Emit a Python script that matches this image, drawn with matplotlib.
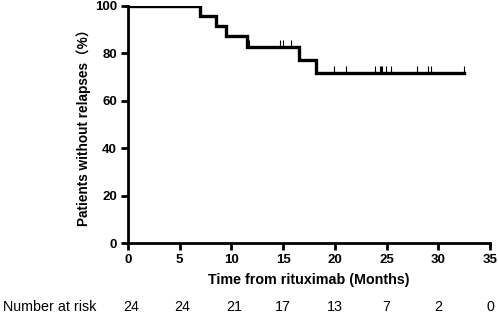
import numpy as np
import matplotlib.pyplot as plt

plt.rcParams['font.family'] = ['Liberation Sans', 'Noto Sans CJK SC', 'DejaVu Sans']

# Kaplan-Meier step curve (months, % without relapse)
step_times = [0, 7.0, 8.5, 9.5, 11.5, 16.5, 18.2, 32.5]
step_surv = [100, 95.8, 91.7, 87.2, 82.6, 77.0, 71.7, 71.7]

# censored observations
cens_times = [5.1, 11.7, 14.7, 14.95, 15.8,
              19.9, 21.1, 23.9, 24.4, 24.5, 24.6, 24.9, 25.4, 27.9, 29.0, 29.3, 32.5]

risk_times = [0, 5, 10, 15, 20, 25, 30, 35]
at_risk = [24, 24, 21, 17, 13, 7, 2, 0]

fig = plt.figure(figsize=(4.98, 3.14), dpi=100)
ax = fig.add_axes([0.257, 0.226, 0.727, 0.755])

ax.step(step_times, step_surv, where='post', color='black', lw=2.4, solid_joinstyle='miter')
# value at censoring = level of step curve
cens_surv = [step_surv[np.searchsorted(step_times, t, side='right') - 1] for t in cens_times]
ax.plot(cens_times, np.array(cens_surv) + 1.8, linestyle='none', marker='|',
        color='black', markersize=4.5, markeredgewidth=0.8)

ax.set_xlim(0, 35)
ax.set_ylim(0, 100)
ax.set_xticks(risk_times)
ax.set_yticks([0, 20, 40, 60, 80, 100])
for s in ['top', 'right']:
    ax.spines[s].set_visible(False)
for s in ['left', 'bottom']:
    ax.spines[s].set_linewidth(2)
ax.tick_params(width=2, length=5, labelsize=9.5, pad=3)
for lab in ax.get_xticklabels() + ax.get_yticklabels():
    lab.set_fontweight('bold')

ax.set_xlabel('Time from rituximab (Months)', fontsize=10.3, fontweight='bold', labelpad=5)
ax.set_ylabel('Patients without relapses（%）', fontsize=9.8, fontweight='bold', labelpad=3)

# number at risk row
for t, n in zip(risk_times, at_risk):
    ax.annotate(str(n), xy=(t, 0), xycoords=('data', 'axes fraction'),
                xytext=(2 if t < 12 else 0, -46), textcoords='offset points',
                ha='center', va='center', fontsize=10.3, annotation_clip=False)
fig.text(0.006, 1 - 307 / 314, 'Number at risk', ha='left', va='center', fontsize=10.3)

fig.savefig('out.png', dpi=100)
